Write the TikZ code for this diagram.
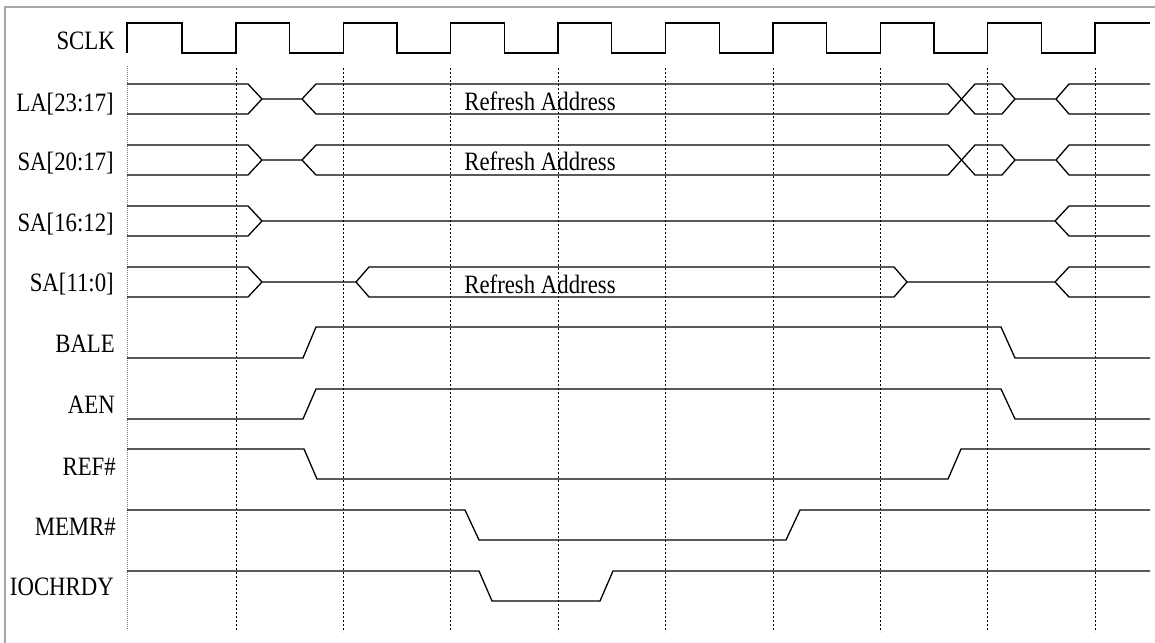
\documentclass[tikz,border=0pt]{standalone}
\usepackage{fontspec}
\setmainfont{Liberation Serif}
\newfontfamily\lblfont[FakeStretch=0.86]{Liberation Serif}
\begin{document}
\begin{tikzpicture}[x=1pt,y=-1pt,
  sig/.style={line width=1.3pt, line join=miter},
  gridline/.style={line width=0.75pt, dash pattern=on 2pt off 2pt},
  firstgrid/.style={line width=0.75pt, gray, dash pattern=on 1pt off 1pt},
  lbl/.style={anchor=base east, font=\lblfont\fontsize{26.5}{30}\selectfont, inner sep=0pt},
  bustext/.style={anchor=base, font=\lblfont\fontsize{26.5}{30}\selectfont, inner sep=0pt}]
\useasboundingbox (0,0) rectangle (1155,642);
% frame
\draw[gray!85!black!60, line width=1.6pt] (5,660) -- (5,7) -- (1170,7);
% grid lines
\draw[firstgrid] (127,66) -- (127,630);
\foreach \gx in {236,343.4,450.8,558.1,665.5,772.9,880.3,987.6,1095}
  \draw[gridline] (\gx,68) -- (\gx,632);
% labels
\node[lbl] (lsclk) at (115,49) {SCLK};
\node[lbl] (lla) at (114,111) {LA[23:17]};
\node[lbl] (lsa20) at (114,170) {SA[20:17]};
\node[lbl] (lsa16) at (114,231) {SA[16:12]};
\node[lbl] (lsa11) at (114,291) {SA[11:0]};
\node[lbl] (lbale) at (115,352) {BALE};
\node[lbl] (laen) at (115,413) {AEN};
\node[lbl] (lref) at (116,475) {REF\#};
\node[lbl] (lmemr) at (116,535) {MEMR\#};
\node[lbl] (liochrdy) at (114,595) {IOCHRDY};
% clock
\draw[sig] (127,53) -- (127,23) -- (182,23) -- (182,53)
  -- (236,53) -- (236,23) -- (289.7,23) -- (289.7,53)
  -- (343.4,53) -- (343.4,23) -- (397,23) -- (397,53)
  -- (450.8,53) -- (450.8,23) -- (504.4,23) -- (504.4,53)
  -- (558.1,53) -- (558.1,23) -- (611.8,23) -- (611.8,53)
  -- (665.5,53) -- (665.5,23) -- (719.2,23) -- (719.2,53)
  -- (772.9,53) -- (772.9,23) -- (826.6,23) -- (826.6,53)
  -- (880.3,53) -- (880.3,23) -- (934,23) -- (934,53)
  -- (987.6,53) -- (987.6,23) -- (1041.4,23) -- (1041.4,53)
  -- (1095,53) -- (1095,23) -- (1150,23);
% LA[23:17]
\draw[sig] (127,84) -- (248,84) -- (262,99) -- (302,99) -- (316,84) -- (948,84) -- (975,114) -- (1002,114) -- (1015,99) -- (1056,99) -- (1069,84) -- (1150,84);
\draw[sig] (127,114) -- (248,114) -- (262,99);
\draw[sig] (302,99) -- (316,114) -- (948,114) -- (975,84) -- (1002,84) -- (1015,99);
\draw[sig] (1056,99) -- (1069,114) -- (1150,114);
\node[bustext] (tla) at (540,110) {Refresh Address};
% SA[20:17]
\draw[sig] (127,145) -- (248,145) -- (262,160) -- (302,160) -- (316,145) -- (948,145) -- (975,175) -- (1002,175) -- (1015,160) -- (1056,160) -- (1069,145) -- (1150,145);
\draw[sig] (127,175) -- (248,175) -- (262,160);
\draw[sig] (302,160) -- (316,175) -- (948,175) -- (975,145) -- (1002,145) -- (1015,160);
\draw[sig] (1056,160) -- (1069,175) -- (1150,175);
\node[bustext] (tsa20) at (540,170) {Refresh Address};
% SA[16:12]
\draw[sig] (127,206) -- (248,206) -- (262,221) -- (1055,221) -- (1069,206) -- (1150,206);
\draw[sig] (127,236) -- (248,236) -- (262,221);
\draw[sig] (1055,221) -- (1069,236) -- (1150,236);
% SA[11:0]
\draw[sig] (127,267) -- (248,267) -- (262,282) -- (356,282) -- (369,267) -- (894,267) -- (907,282) -- (1055,282) -- (1069,267) -- (1150,267);
\draw[sig] (127,297) -- (248,297) -- (262,282);
\draw[sig] (356,282) -- (369,297) -- (894,297) -- (907,282);
\draw[sig] (1055,282) -- (1069,297) -- (1150,297);
\node[bustext] (tsa11) at (540,293) {Refresh Address};
% BALE
\draw[sig] (127,358) -- (303,358) -- (316,327) -- (1001,327) -- (1015,358) -- (1150,358);
% AEN
\draw[sig] (127,419) -- (303,419) -- (316,389) -- (1001,389) -- (1015,419) -- (1150,419);
% REF#
\draw[sig] (127,449) -- (304,449) -- (317,479) -- (948,479) -- (961,449) -- (1150,449);
% MEMR#
\draw[sig] (127,510) -- (465,510) -- (479,540) -- (786,540) -- (800,510) -- (1150,510);
% IOCHRDY
\draw[sig] (127,571) -- (479,571) -- (492,601) -- (600,601) -- (613,571) -- (1150,571);
\end{tikzpicture}
\end{document}
